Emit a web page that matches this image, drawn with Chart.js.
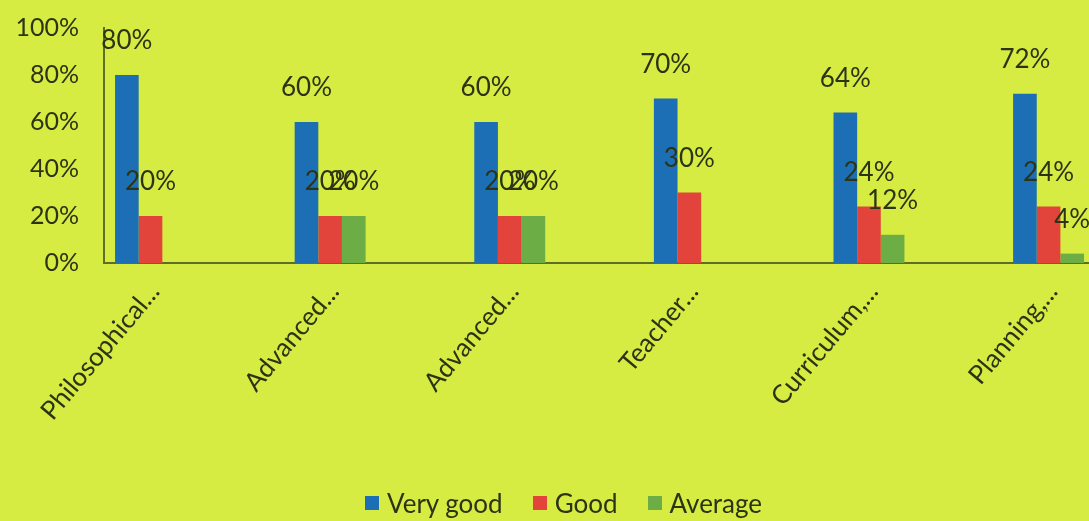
<!DOCTYPE html>
<html>
<head>
<meta charset="utf-8">
<script src="https://cdn.jsdelivr.net/npm/chart.js@4.4.1/dist/chart.umd.min.js"></script>
<style>
    html, body { margin: 0; padding: 0; background: #d6ec42; overflow: hidden; }
    #wrap { position: relative; width: 1089px; height: 521px; }
    #legend {
        position: absolute; left: 365px; top: 487px;
        display: flex; align-items: center; gap: 30px;
        font: 26px Lato, sans-serif; color: #2d3316;
    }
    .legend-item { display: flex; align-items: center; }
    .dot { width: 14px; height: 14px; margin-right: 8px; display: inline-block; }
</style>
</head>
<body>
<div id="wrap">
    <canvas id="chart" width="1089" height="521"></canvas>
    <div id="legend"></div>
</div>
<script>
// ==========================================
// DATA
// ==========================================
const categories = ['Philosophical...', 'Advanced...', 'Advanced...', 'Teacher...', 'Curriculum,...', 'Planning,...'];

const seriesNames = ['Very good', 'Good', 'Average'];

const very_good = [80, 60, 60, 70, 64, 72];
const good      = [20, 20, 20, 30, 24, 24];
const average   = [null, 20, 20, null, 12, 4];

const yTicks = [0, 20, 40, 60, 80, 100];

const seriesColors = ['#1d6fb5', '#e2443b', '#6cae45'];

const textColor = '#2d3316';
const axisColor = '#5f6e22';

// ==========================================
// LEGEND (html, under the chart)
// ==========================================
function buildLegend(legendEl) {
    legendEl.innerHTML = '';
    seriesNames.forEach((label, i) => {
        const item = document.createElement('div');
        item.className = 'legend-item';
        item.innerHTML = `<span class="dot" style="background:${seriesColors[i]};"></span>${label}`;
        legendEl.appendChild(item);
    });
}

// value labels above each bar
const barLabels = {
    id: 'barLabels',
    afterDatasetsDraw(chart) {
        const ctx = chart.ctx;
        ctx.save();
        ctx.font = '26px Lato, sans-serif';
        ctx.fillStyle = textColor;
        ctx.textAlign = 'center';
        ctx.textBaseline = 'middle';
        chart.data.datasets.forEach((ds, i) => {
            chart.getDatasetMeta(i).data.forEach((bar, j) => {
                const v = ds.data[j].y;
                if (v == null) return;
                ctx.fillText(v + '%', bar.x, bar.y - 34);
            });
        });
        ctx.restore();
    }
};

const allSeries = [very_good, good, average];

new Chart(document.getElementById('chart'), {
    type: 'bar',
    data: {
        datasets: allSeries.map((vals, i) => ({
            label: seriesNames[i],
            data: vals.map((v, j) => ({ x: j, y: v })),
            backgroundColor: seriesColors[i],
            borderWidth: 0,
            barPercentage: 1,
            categoryPercentage: 0.395
        }))
    },
    options: {
        responsive: false,
        animation: false,
        layout: { padding: { top: 28, left: 0, right: 0, bottom: 0 } },
        plugins: {
            legend: { display: false },
            tooltip: { enabled: false }
        },
        scales: {
            x: {
                type: 'linear',
                offset: false,
                min: -0.259,
                max: 5.225,
                afterBuildTicks: s => { s.ticks = categories.map((c, i) => ({ value: i })); },
                afterFit: s => { s.height = 258; },
                grid: { display: false, drawTicks: false },
                border: { display: true, color: axisColor, width: 2 },
                ticks: {
                    autoSkip: false,
                    minRotation: 50,
                    maxRotation: 50,
                    padding: 14,
                    labelOffset: 4,
                    color: textColor,
                    font: { family: 'Lato', size: 26 },
                    callback: v => categories[v]
                }
            },
            y: {
                min: 0,
                max: 100,
                afterBuildTicks: s => { s.ticks = yTicks.map(v => ({ value: v })); },
                afterFit: s => { s.width = 104; },
                grid: { display: false, drawTicks: true, tickLength: 25 },
                border: { display: true, color: axisColor, width: 2 },
                ticks: {
                    padding: 0,
                    color: textColor,
                    font: { family: 'Lato', size: 25 },
                    callback: v => v + '%'
                }
            }
        }
    },
    plugins: [barLabels]
});

buildLegend(document.getElementById('legend'));
</script>
</body>
</html>
